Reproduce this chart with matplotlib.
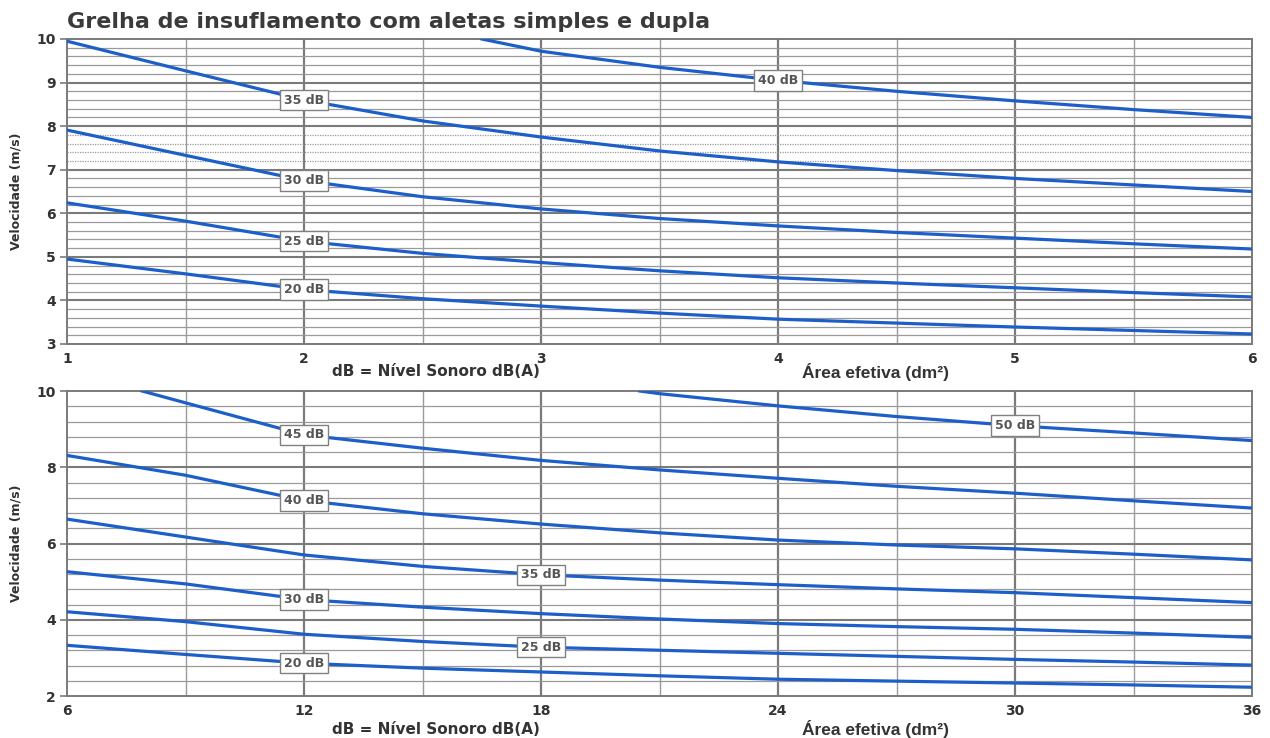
import numpy as np
import matplotlib
matplotlib.use("Agg")
import matplotlib.pyplot as plt

# ---------------- data ----------------
title = "Grelha de insuflamento com aletas simples e dupla"
ylabel = "Velocidade (m/s)"
xlabel_left = "dB = Nível Sonoro dB(A)"
xlabel_right = "Área efetiva (dm²)"

# top chart (simple)
top_x = [1, 1.5, 2, 2.5, 3, 3.5, 4, 4.5, 5, 5.5, 6]
top_40_x = [2.75, 3, 3.5, 4, 4.5, 5, 5.5, 6]
top_40_y = [10.0, 9.72, 9.35, 9.05, 8.8, 8.58, 8.38, 8.2]
top_35_y = [9.95, 9.27, 8.6, 8.12, 7.75, 7.43, 7.18, 6.98, 6.8, 6.65, 6.5]
top_30_y = [7.91, 7.33, 6.75, 6.38, 6.1, 5.88, 5.71, 5.56, 5.43, 5.3, 5.18]
top_25_y = [6.24, 5.82, 5.36, 5.08, 4.87, 4.68, 4.52, 4.4, 4.29, 4.18, 4.08]
top_20_y = [4.95, 4.61, 4.25, 4.04, 3.87, 3.71, 3.57, 3.48, 3.39, 3.31, 3.23]
top_labels = ["40 dB", "35 dB", "30 dB", "25 dB", "20 dB"]
top_label_x = [4, 2, 2, 2, 2]
top_xticks = [1, 2, 3, 4, 5, 6]
top_yticks = [3, 4, 5, 6, 7, 8, 9, 10]

# bottom chart (double)
bot_x = [6, 9, 12, 15, 18, 21, 24, 27, 30, 33, 36]
bot_50_x = [20.5, 21, 24, 27, 30, 33, 36]
bot_50_y = [10.0, 9.93, 9.61, 9.33, 9.09, 8.9, 8.7]
bot_45_x = [7.9, 9, 12, 15, 18, 21, 24, 27, 30, 33, 36]
bot_45_y = [10.0, 9.69, 8.85, 8.5, 8.18, 7.93, 7.71, 7.5, 7.32, 7.12, 6.93]
bot_40_y = [8.31, 7.79, 7.13, 6.78, 6.51, 6.28, 6.09, 5.96, 5.86, 5.72, 5.57]
bot_35_y = [6.64, 6.17, 5.7, 5.4, 5.18, 5.04, 4.92, 4.81, 4.71, 4.58, 4.45]
bot_30_y = [5.26, 4.94, 4.53, 4.33, 4.16, 4.02, 3.9, 3.82, 3.75, 3.65, 3.54]
bot_25_y = [4.21, 3.95, 3.62, 3.43, 3.28, 3.2, 3.12, 3.04, 2.96, 2.89, 2.81]
bot_20_y = [3.33, 3.09, 2.86, 2.73, 2.63, 2.53, 2.44, 2.39, 2.34, 2.29, 2.23]
bot_labels = ["50 dB", "45 dB", "40 dB", "35 dB", "30 dB", "25 dB", "20 dB"]
bot_label_x = [30, 12, 12, 18, 12, 18, 12]
bot_xticks = [6, 12, 18, 24, 30, 36]
bot_yticks = [2, 4, 6, 8, 10]

# ---------------- style ----------------
BLUE = "#1c5fc9"
TXT = "#333333"
MAJ = "#7a7a7a"
MIN = "#9a9a9a"

plt.rcParams["font.family"] = ["DejaVu Sans"]
fig = plt.figure(figsize=(12.7, 7.38), dpi=100)
fig.patch.set_facecolor("white")

ax1 = fig.add_axes([67/1270, 1-344/738, (1252-67)/1270, (344-39)/738])
ax2 = fig.add_axes([67/1270, 1-696/738, (1252-67)/1270, (696-391)/738])


def setup(ax, xlim, ylim, xmaj, xmin_step, ymaj, ymin_step, dotted_band=None):
    ax.set_xlim(*xlim)
    ax.set_ylim(*ylim)
    ax.set_xticks(xmaj)
    ax.set_yticks(ymaj)
    ax.set_xticklabels([str(v) for v in xmaj])
    ax.set_yticklabels([str(v) for v in ymaj])
    for xv in np.arange(xlim[0] + xmin_step, xlim[1], xmin_step):
        if any(abs(xv - m) < 1e-6 for m in xmaj):
            ax.axvline(xv, color=MAJ, lw=1.6, zorder=1)
        else:
            ax.axvline(xv, color=MIN, lw=1.0, zorder=1)
    for yv in np.arange(ylim[0] + ymin_step, ylim[1] - 1e-6, ymin_step):
        if any(abs(yv - m) < 1e-6 for m in ymaj):
            ax.axhline(yv, color=MAJ, lw=1.5, zorder=1)
        else:
            ls = "-"
            if dotted_band and dotted_band[0] < yv < dotted_band[1]:
                ls = (0, (1, 1))
            ax.axhline(yv, color=MIN, lw=0.9, ls=ls, zorder=1)
    for s in ax.spines.values():
        s.set_color(MAJ)
        s.set_linewidth(1.4)
    ax.tick_params(axis="y", length=5, width=1.2, color=MAJ, pad=3,
                   labelsize=10, labelcolor=TXT)
    ax.tick_params(axis="x", length=0, pad=6, labelsize=10, labelcolor=TXT)
    for t in ax.get_xticklabels() + ax.get_yticklabels():
        t.set_fontweight("bold")
    ax.set_ylabel(ylabel, fontsize=9, fontweight="bold", color=TXT, labelpad=10)


setup(ax1, (1, 6), (3, 10), top_xticks, 0.5, top_yticks, 0.2, dotted_band=(7, 8))
setup(ax2, (6, 36), (2, 10), bot_xticks, 3, bot_yticks, 0.4)

lw = 2.3
box = dict(boxstyle="square,pad=0.3", fc="white", ec="#808080", lw=1.0)
top_series = [(top_40_x, top_40_y), (top_x, top_35_y), (top_x, top_30_y),
              (top_x, top_25_y), (top_x, top_20_y)]
for (xs, ys), lab, lx in zip(top_series, top_labels, top_label_x):
    ax1.plot(xs, ys, color=BLUE, lw=lw, zorder=3, clip_on=True)
    ly = np.interp(lx, xs, ys)
    ax1.text(lx, ly, lab, ha="center", va="center", fontsize=9, fontweight="bold",
             color="#555555", zorder=5, bbox=box)

bot_series = [(bot_50_x, bot_50_y), (bot_45_x, bot_45_y), (bot_x, bot_40_y),
              (bot_x, bot_35_y), (bot_x, bot_30_y), (bot_x, bot_25_y), (bot_x, bot_20_y)]
for (xs, ys), lab, lx in zip(bot_series, bot_labels, bot_label_x):
    ax2.plot(xs, ys, color=BLUE, lw=lw, zorder=3, clip_on=True)
    ly = np.interp(lx, xs, ys)
    ax2.text(lx, ly, lab, ha="center", va="center", fontsize=9, fontweight="bold",
             color="#555555", zorder=5, bbox=box)

# title
fig.text(67/1270, 1-22/738, title, ha="left", va="center", fontsize=16,
         fontweight="bold", color="#3a3a3a")

# axis texts
for ypix in (372, 729):
    fig.text(436/1270, 1-ypix/738, xlabel_left, ha="center", va="center",
             fontsize=11, fontweight="bold", color=TXT)
    fig.text(876/1270, 1-ypix/738, xlabel_right, ha="center", va="center",
             fontsize=12.5, fontweight="bold", color=TXT, family="Liberation Sans")

fig.savefig("out.png", dpi=100, facecolor="white")
